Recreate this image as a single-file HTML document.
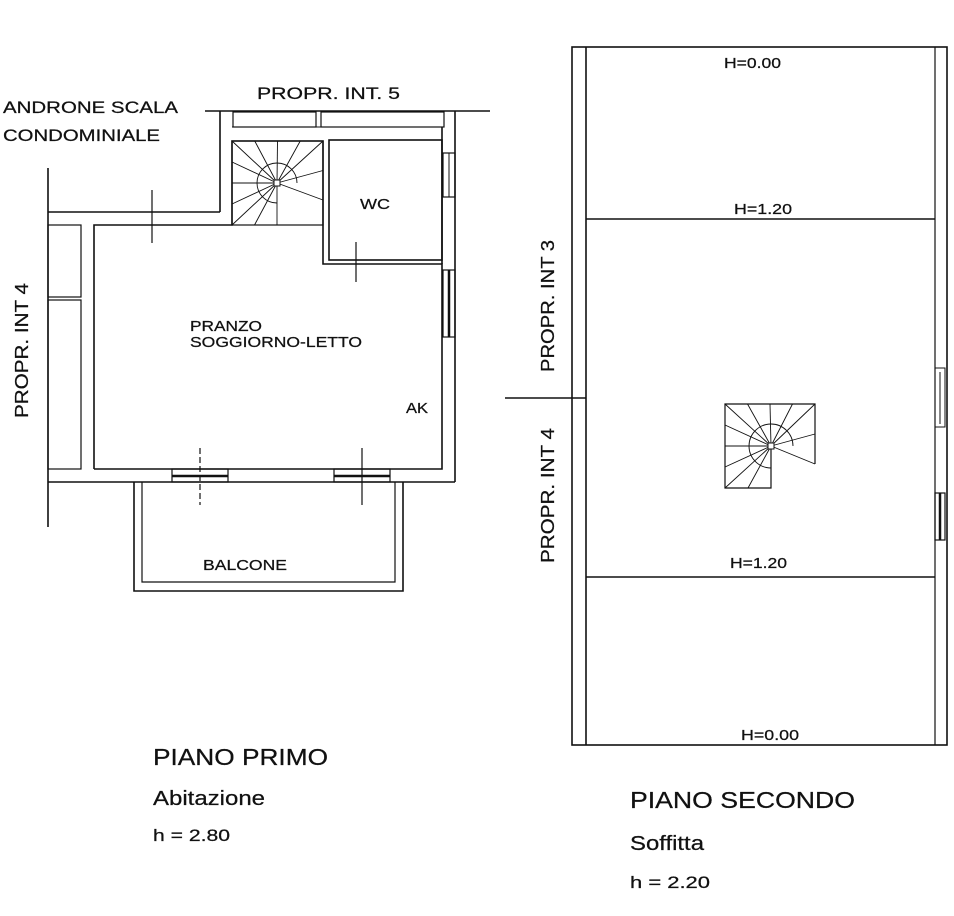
<!DOCTYPE html>
<html><head><meta charset="utf-8"><style>
html,body{margin:0;padding:0;background:#fff;}
svg{display:block;}
text{font-family:"Liberation Sans",Arial,sans-serif;fill:#111;stroke:#111;stroke-width:0.25;}
</style></head><body>
<svg id="s" width="954" height="916" viewBox="0 0 954 916" xmlns="http://www.w3.org/2000/svg">
<g stroke="#111" stroke-width="1.6" fill="none">
<line x1="205" y1="111" x2="490" y2="111"/>
<line x1="220" y1="111" x2="220" y2="212"/>
<line x1="48" y1="212" x2="220" y2="212"/>
<line x1="48" y1="168" x2="48" y2="527"/>
<line x1="455" y1="111" x2="455" y2="482"/>
<line x1="48" y1="482" x2="455" y2="482"/>
<rect x="233" y="112" width="83" height="15" stroke-width="1.2"/>
<rect x="321" y="112" width="123" height="15" stroke-width="1.2"/>
<line x1="232" y1="127" x2="442" y2="127" stroke-width="1"/>
<polyline points="94,469 94,225 232,225 232,141 323,141 323,264 442,264 442,469 94,469"/>
<rect x="329" y="140" width="113" height="120"/>
<line x1="442" y1="127" x2="442" y2="264"/>
<rect x="48" y="225" width="33" height="72" stroke-width="1.2"/>
<rect x="48" y="300" width="33" height="169" stroke-width="1.2"/>
<line x1="152" y1="190" x2="152" y2="243" stroke-width="1.2"/>
<line x1="130" y1="212" x2="176" y2="212" stroke-width="1"/>
<line x1="356" y1="242" x2="356" y2="282" stroke-width="1.2"/>
<line x1="200" y1="448" x2="200" y2="505" stroke-width="1.2" stroke-dasharray="6,3"/>
<line x1="362" y1="448" x2="362" y2="505" stroke-width="1.2"/>
<rect x="172" y="469" width="56" height="13" stroke-width="1.2"/>
<line x1="172" y1="476" x2="228" y2="476" stroke-width="2.5"/>
<rect x="334" y="469" width="56" height="13" stroke-width="1.2"/>
<line x1="334" y1="476" x2="390" y2="476" stroke-width="2.5"/>
<rect x="443" y="270" width="12" height="67" stroke-width="1.2"/>
<line x1="449" y1="270" x2="449" y2="337" stroke-width="2.5"/>
<rect x="443" y="153" width="12" height="44" stroke-width="1.2"/>
<line x1="449" y1="153" x2="449" y2="197" stroke-width="1"/>
<polyline points="134,482 134,591 403,591 403,482"/>
<polyline points="142,482 142,582 395,582 395,482" stroke-width="1.2"/>
<rect x="572" y="47" width="375" height="698"/>
<line x1="586" y1="47" x2="586" y2="745"/>
<line x1="935" y1="47" x2="935" y2="745" stroke-width="1.2"/>
<line x1="586" y1="219" x2="935" y2="219"/>
<line x1="586" y1="577" x2="935" y2="577"/>
<line x1="505" y1="398" x2="586" y2="398"/>
<rect x="935" y="368" width="10" height="59" stroke-width="1"/>
<line x1="940" y1="372" x2="940" y2="424" stroke-width="1"/>
<rect x="935" y="493" width="10" height="47" stroke-width="1.2"/>
<line x1="940" y1="493" x2="940" y2="540" stroke-width="2.5"/>
<g id="st1"></g>
<g id="st2"></g>
</g>
<g font-size="17" lengthAdjust="spacingAndGlyphs">
<text x="3" y="113" textLength="175" lengthAdjust="spacingAndGlyphs">ANDRONE SCALA</text>
<text x="3" y="141" textLength="157" lengthAdjust="spacingAndGlyphs">CONDOMINIALE</text>
<text x="257" y="99" textLength="143" lengthAdjust="spacingAndGlyphs">PROPR. INT. 5</text>
<text transform="translate(28,418) rotate(-90)" font-size="18" textLength="135" lengthAdjust="spacingAndGlyphs">PROPR. INT 4</text>
<text x="360" y="209" font-size="15" textLength="30" lengthAdjust="spacingAndGlyphs">WC</text>
<text x="190" y="331" font-size="15" textLength="72" lengthAdjust="spacingAndGlyphs">PRANZO</text>
<text x="190" y="347" font-size="15" textLength="172" lengthAdjust="spacingAndGlyphs">SOGGIORNO-LETTO</text>
<text x="406" y="413" font-size="15" textLength="22" lengthAdjust="spacingAndGlyphs">AK</text>
<text x="203" y="570" font-size="15" textLength="84" lengthAdjust="spacingAndGlyphs">BALCONE</text>
<text x="724" y="68" font-size="15" textLength="57" lengthAdjust="spacingAndGlyphs">H=0.00</text>
<text x="734" y="214" font-size="15" textLength="58" lengthAdjust="spacingAndGlyphs">H=1.20</text>
<text x="730" y="568" font-size="15" textLength="57" lengthAdjust="spacingAndGlyphs">H=1.20</text>
<text x="741" y="740" font-size="15" textLength="58" lengthAdjust="spacingAndGlyphs">H=0.00</text>
<text transform="translate(554,372) rotate(-90)" font-size="18" textLength="132" lengthAdjust="spacingAndGlyphs">PROPR. INT 3</text>
<text transform="translate(554,563) rotate(-90)" font-size="18" textLength="135" lengthAdjust="spacingAndGlyphs">PROPR. INT 4</text>
<text x="153" y="765" font-size="23" textLength="175" lengthAdjust="spacingAndGlyphs">PIANO PRIMO</text>
<text x="153" y="805" font-size="20" textLength="112" lengthAdjust="spacingAndGlyphs">Abitazione</text>
<text x="153" y="841" font-size="17" textLength="77" lengthAdjust="spacingAndGlyphs">h = 2.80</text>
<text x="630" y="808" font-size="23" textLength="225" lengthAdjust="spacingAndGlyphs">PIANO SECONDO</text>
<text x="630" y="850" font-size="20" textLength="74" lengthAdjust="spacingAndGlyphs">Soffitta</text>
<text x="630" y="888" font-size="17" textLength="80" lengthAdjust="spacingAndGlyphs">h = 2.20</text>
</g>
</svg>
<script>
function stair(id,x0,y0,x1,y1,cx,cy,r,notchY,full){
 var g=document.getElementById(id),s='';
 if(full){s+='<rect x="'+x0+'" y="'+y0+'" width="'+(x1-x0)+'" height="'+(y1-y0)+'" stroke-width="1.2"/>';}
 else{s+='<polyline stroke-width="1.2" points="'+x1+','+notchY+' '+x1+','+y0+' '+x0+','+y0+' '+x0+','+y1+' '+cx+','+y1+' '+cx+','+cy+'"/>';}
 var pts=[];
 var w=x1-x0,h=y1-y0;
 for(var i=0;i<=4;i++){pts.push([x0,y1-h*i/4]);}
 for(var i=1;i<=4;i++){pts.push([x0+w*i/4,y0]);}
 for(var i=1;i<=2;i++){pts.push([x1,y0+(notchY-y0)*i/2]);}
 pts.push([cx,y1]);pts.push([(x0+cx)/2,y1]);
 pts.forEach(function(p){s+='<line stroke-width="0.9" x1="'+cx+'" y1="'+cy+'" x2="'+p[0]+'" y2="'+p[1]+'"/>';});
 s+='<path stroke-width="0.9" d="M'+(cx+r)+','+cy+' A'+r+','+r+' 0 1 0 '+cx+','+(cy+r)+'"/>';
 s+='<rect x="'+(cx-3)+'" y="'+(cy-3)+'" width="6" height="6" fill="#fff" stroke-width="1"/>';
 g.innerHTML=s;
}
stair('st1',232,141,323,225,277,183,20,200,true);
stair('st2',725,404,815,488,771,446,22,464,false);
</script>
</body></html>
